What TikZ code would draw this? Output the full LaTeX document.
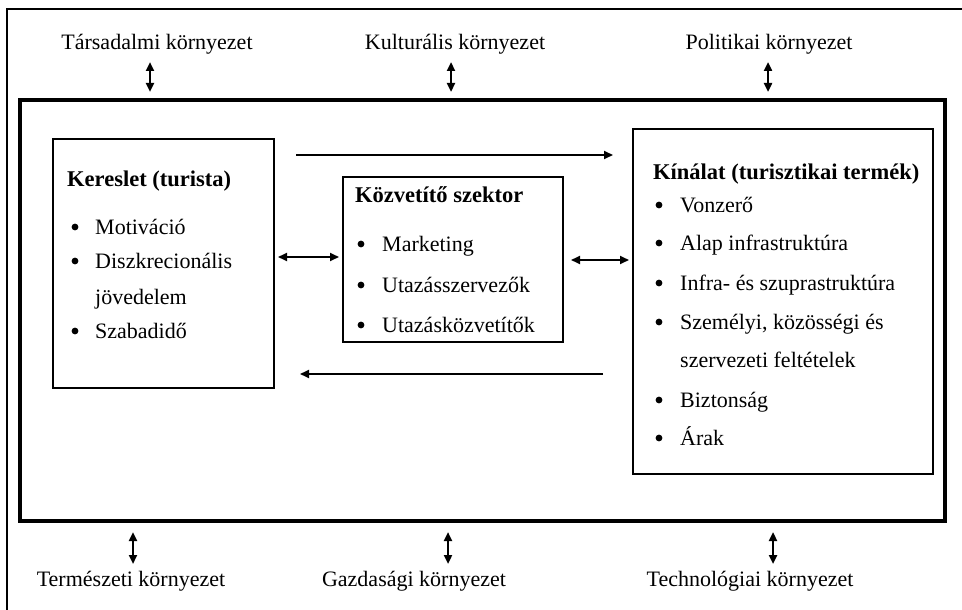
\documentclass[tikz,border=0pt]{standalone}
\usepackage{fontspec}
\setmainfont{Liberation Serif}
\usetikzlibrary{arrows.meta}
\begin{document}
\begin{tikzpicture}[x=1pt,y=-1pt,
  txt/.style={font=\fontsize{22}{26}\selectfont, inner sep=0pt, anchor=mid west},
  hd/.style={font=\fontsize{22.5}{26}\selectfont\bfseries, inner sep=0pt, anchor=mid west},
  envlab/.style={font=\fontsize{22}{26}\selectfont, inner sep=0pt, anchor=base},
  box/.style={draw, line width=2pt, inner sep=0pt},
  bul/.style={fill=black},
  tip/.tip={Triangle[length=9pt,width=8pt]},
  arr/.style={line width=1.8pt, -tip},
  darr/.style={line width=1.8pt, tip-tip},
  varr/.style={line width=2.4pt, tip-tip},
]
\useasboundingbox (0,0) rectangle (962,610);
% outer thin frame (open at right and bottom)
\draw[line width=1.5pt] (962,9) -- (7,9) -- (7,610);
% main thick box
\node[draw, line width=4.5pt, minimum width=925pt, minimum height=421pt, inner sep=0pt] (main) at (482.5,310.5) {};

% environment labels
\node[envlab] (tars) at (157,50) {Társadalmi környezet};
\node[envlab] (kult) at (455,50) {Kulturális környezet};
\node[envlab] (pol)  at (769,50) {Politikai környezet};
\node[envlab] (term) at (131,586) {Természeti környezet};
\node[envlab] (gazd) at (414,586) {Gazdasági környezet};
\node[envlab] (tech) at (750,586) {Technológiai környezet};

\coordinate (a1s) at (150,62); \coordinate (a1e) at (150,92);
\coordinate (a2s) at (451,62); \coordinate (a2e) at (451,92);
\coordinate (a3s) at (768,62); \coordinate (a3e) at (768,92);
\coordinate (b1s) at (133,532); \coordinate (b1e) at (133,564);
\coordinate (b2s) at (448,532); \coordinate (b2e) at (448,564);
\coordinate (b3s) at (773,532); \coordinate (b3e) at (773,564);
\draw[varr] (a1s) -- (a1e);
\draw[varr] (a2s) -- (a2e);
\draw[varr] (a3s) -- (a3e);
\draw[varr] (b1s) -- (b1e);
\draw[varr] (b2s) -- (b2e);
\draw[varr] (b3s) -- (b3e);

% boxes
\node[box, minimum width=221pt, minimum height=249pt] (ker) at (163.5,263.5) {};
\node[box, minimum width=220pt, minimum height=165pt] (kozv) at (453,259.5) {};
\node[box, minimum width=300pt, minimum height=345pt] (kin) at (783,301.5) {};

% Kereslet
\node[hd] (kerh) at (67,184) {Kereslet (turista)};
\node[txt] (k1) at (95,232) {Motiváció};
\node[txt] (k2) at (95,266) {Diszkrecionális};
\node[txt] (k3) at (95,302) {jövedelem};
\node[txt] (k4) at (95,336) {Szabadidő};
\fill[bul] (75,227) circle (3.4pt);
\fill[bul] (75,261) circle (3.4pt);
\fill[bul] (75,331) circle (3.4pt);

% Közvetítő
\node[hd] (kozh) at (355,200) {Közvetítő szektor};
\node[txt] (z1) at (382,249) {Marketing};
\node[txt] (z2) at (382,290) {Utazásszervezők};
\node[txt] (z3) at (382,330) {Utazásközvetítők};
\fill[bul] (361,244) circle (3.4pt);
\fill[bul] (361,285) circle (3.4pt);
\fill[bul] (361,325) circle (3.4pt);

% Kínálat
\node[hd] (kinh) at (653,177) {Kínálat (turisztikai termék)};
\node[txt] (n1) at (680,210) {Vonzerő};
\node[txt] (n2) at (680,248) {Alap infrastruktúra};
\node[txt] (n3) at (680,288) {Infra- és szuprastruktúra};
\node[txt] (n4) at (680,327) {Személyi, közösségi és};
\node[txt] (n5) at (680,365) {szervezeti feltételek};
\node[txt] (n6) at (680,405) {Biztonság};
\node[txt] (n7) at (680,443) {Árak};
\fill[bul] (659,205) circle (3.4pt);
\fill[bul] (659,243) circle (3.4pt);
\fill[bul] (659,283) circle (3.4pt);
\fill[bul] (659,322) circle (3.4pt);
\fill[bul] (659,400) circle (3.4pt);
\fill[bul] (659,438) circle (3.4pt);

% flow arrows
\coordinate (f1) at (296,155); \coordinate (f2) at (613,155);
\coordinate (g1) at (603,374); \coordinate (g2) at (300,374);
\draw[arr] (f1) -- (f2);
\draw[arr] (g1) -- (g2);
\coordinate (m1) at (0,257);
\coordinate (m2) at (0,260);
\draw[darr, shorten <=3pt, shorten >=3pt] (ker.east |- m1) -- (kozv.west |- m1);
\draw[darr, shorten <=7pt, shorten >=3pt] (kozv.east |- m2) -- (kin.west |- m2);
\end{tikzpicture}
\end{document}
